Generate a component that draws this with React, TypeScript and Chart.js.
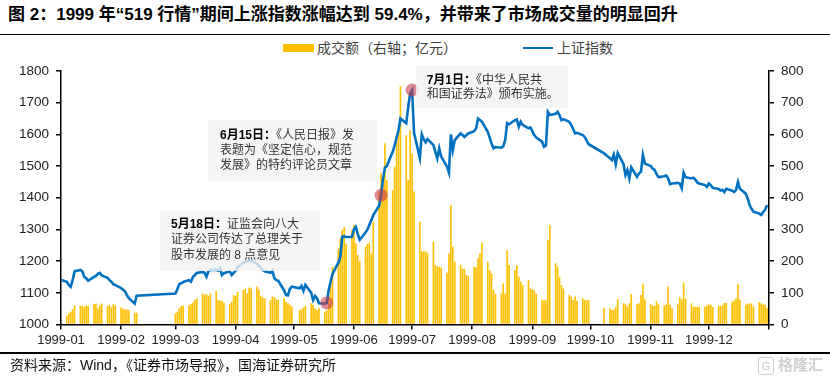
import React, { useEffect, useRef } from "react";
import { Chart, registerables } from "chart.js";

Chart.register(...registerables);

// ---------- axis labels ----------
const monthLabels = [
  "1999-01", "1999-02", "1999-03", "1999-04", "1999-05", "1999-06",
  "1999-07", "1999-08", "1999-09", "1999-10", "1999-11", "1999-12",
];
// day-of-year of each month start (last = 2000-01-01)
const monthStartDays = [1, 32, 60, 91, 121, 152, 182, 213, 244, 274, 305, 335, 366];
const monthOffsets = [0, 31, 59, 90, 120, 151, 181, 212, 243, 273, 304, 334];

// ---------- data: trading days, 上证指数 (close), 成交额 (亿元) ----------
const daysDec1998 = [31];
const indexDec1998 = [1143];

const days01 = [4, 5, 6, 7, 8, 11, 12, 13, 14, 15, 18, 19, 20, 21, 22, 25, 26, 27, 28, 29];
const index01 = [1135, 1125, 1119, 1140, 1168, 1172, 1168, 1150, 1146, 1138, 1150, 1153, 1160, 1163, 1155, 1147, 1140, 1135, 1127, 1124];
const volume01 = [27, 35, 40, 48, 60, 58, 59, 55, 60, 58, 65, 66, 51, 60, 66, 58, 62, 54, 64, 60];

const days02 = [1, 2, 3, 4, 5, 8, 9];
const index02 = [1115, 1110, 1105, 1092, 1083, 1066, 1091];
const volume02 = [54, 49, 47, 47, 45, 37, 37];

const days03 = [1, 2, 3, 4, 5, 8, 9, 10, 11, 12, 15, 16, 17, 18, 19, 22, 23, 24, 25, 26, 29, 30, 31];
const index03 = [1098, 1112, 1128, 1130, 1134, 1140, 1135, 1150, 1156, 1163, 1166, 1163, 1151, 1168, 1172, 1173, 1170, 1177, 1156, 1162, 1168, 1156, 1163];
const volume03 = [35, 40, 51, 58, 60, 61, 65, 69, 77, 83, 98, 93, 96, 90, 98, 106, 77, 76, 74, 69, 65, 72, 93];

const days04 = [1, 2, 5, 6, 7, 8, 9, 12, 13, 14, 15, 16, 19, 20, 21, 22, 23, 26, 27, 28, 29, 30];
const index04 = [1170, 1180, 1195, 1198, 1200, 1203, 1201, 1193, 1185, 1180, 1172, 1168, 1163, 1170, 1146, 1140, 1138, 1108, 1093, 1092, 1112, 1119];
const volume04 = [90, 103, 109, 113, 98, 117, 114, 119, 111, 90, 86, 83, 77, 88, 86, 80, 77, 83, 72, 67, 62, 56];

const days05 = [4, 5, 6, 7, 10, 11, 12, 13, 14, 17, 18, 19, 20, 21, 24, 25, 26, 27, 28, 31];
const index05 = [1114, 1122, 1106, 1125, 1100, 1077, 1090, 1082, 1067, 1066, 1068, 1109, 1135, 1160, 1195, 1214, 1277, 1278, 1276, 1277];
const volume05 = [46, 47, 54, 58, 67, 62, 51, 46, 51, 40, 45, 88, 130, 182, 240, 272, 298, 308, 256, 298];

const days06 = [1, 2, 3, 4, 7, 8, 9, 10, 11, 14, 15, 16, 17, 18, 21, 22, 23, 24, 25, 28, 29, 30];
const index06 = [1300, 1308, 1285, 1267, 1290, 1300, 1315, 1330, 1345, 1375, 1408, 1460, 1495, 1500, 1545, 1565, 1590, 1613, 1650, 1635, 1687, 1729];
const volume06 = [314, 256, 219, 200, 245, 255, 258, 225, 324, 420, 477, 445, 572, 456, 424, 498, 582, 613, 752, 597, 456, 613];

const days07 = [1, 2, 5, 6, 7, 8, 9, 12, 13, 14, 15, 16, 19, 20, 21, 22, 23, 26, 27, 28, 29, 30];
const index07 = [1740, 1605, 1525, 1600, 1585, 1575, 1585, 1566, 1545, 1524, 1556, 1530, 1498, 1479, 1600, 1550, 1582, 1603, 1598, 1592, 1598, 1603];
const volume07 = [540, 420, 324, 230, 230, 230, 225, 261, 188, 182, 182, 180, 163, 225, 377, 245, 198, 188, 177, 176, 156, 153];

const days08 = [2, 3, 4, 5, 6, 9, 10, 11, 12, 13, 16, 17, 18, 19, 20, 23, 24, 25, 26, 27, 30, 31];
const index08 = [1610, 1619, 1650, 1645, 1640, 1608, 1590, 1570, 1556, 1560, 1558, 1562, 1582, 1635, 1632, 1645, 1647, 1624, 1640, 1630, 1619, 1622];
const volume08 = [182, 180, 209, 225, 258, 198, 172, 161, 109, 96, 98, 130, 98, 235, 188, 172, 188, 151, 135, 125, 140, 114];

const days09 = [1, 2, 3, 6, 7, 8, 9, 10, 13, 14, 15, 16, 17, 20, 21, 22, 23, 24, 27, 28, 29, 30];
const index09 = [1610, 1598, 1590, 1577, 1561, 1565, 1671, 1661, 1665, 1671, 1660, 1645, 1648, 1640, 1630, 1618, 1603, 1605, 1598, 1592, 1580, 1569];
const volume09 = [111, 107, 96, 77, 76, 77, 267, 314, 193, 182, 151, 125, 114, 93, 88, 77, 88, 75, 83, 77, 76, 77];

const days10 = [8, 11, 12, 13, 14, 15, 18, 19, 20, 21, 22, 25, 26, 27, 28, 29];
const index10 = [1540, 1525, 1519, 1536, 1506, 1541, 1506, 1471, 1487, 1461, 1496, 1466, 1477, 1482, 1535, 1508];
const volume10 = [52, 51, 46, 47, 55, 80, 67, 64, 57, 67, 96, 64, 67, 93, 127, 80];

const days11 = [1, 2, 3, 4, 5, 8, 9, 10, 11, 12, 15, 16, 17, 18, 19, 22, 23, 24, 25, 26, 29, 30];
const index11 = [1500, 1492, 1488, 1475, 1465, 1468, 1470, 1462, 1443, 1445, 1447, 1445, 1430, 1479, 1465, 1461, 1463, 1458, 1448, 1445, 1440, 1434];
const volume11 = [64, 60, 58, 73, 64, 60, 63, 119, 63, 51, 64, 86, 80, 132, 82, 67, 57, 55, 55, 55, 56, 60];

const days12 = [1, 2, 3, 6, 7, 8, 9, 10, 13, 14, 15, 16, 17, 20, 21, 22, 23, 24, 27, 28, 29, 30, 31];
const index12 = [1445, 1440, 1431, 1428, 1423, 1425, 1418, 1428, 1422, 1418, 1425, 1450, 1428, 1413, 1398, 1377, 1365, 1356, 1350, 1346, 1355, 1362, 1377];
const volume12 = [64, 62, 55, 58, 58, 61, 68, 68, 72, 76, 82, 128, 78, 62, 66, 66, 66, 56, 71, 66, 63, 62, 52];

// highlighted events (month, day)
const eventMonths = [5, 6, 7];
const eventDays = [18, 15, 1];

// ---------- build series ----------
const monthTable: [number, number[], number[], number[]][] = [
  [1, days01, index01, volume01],
  [2, days02, index02, volume02],
  [3, days03, index03, volume03],
  [4, days04, index04, volume04],
  [5, days05, index05, volume05],
  [6, days06, index06, volume06],
  [7, days07, index07, volume07],
  [8, days08, index08, volume08],
  [9, days09, index09, volume09],
  [10, days10, index10, volume10],
  [11, days11, index11, volume11],
  [12, days12, index12, volume12],
];

const dayOfYear = (m: number, d: number) => monthOffsets[m - 1] + d;

const linePoints: { x: number; y: number }[] = daysDec1998.map((d, i) => ({ x: d - 31, y: indexDec1998[i] }));
const barPoints: { x: number; y: number }[] = [];
monthTable.forEach(([m, days, idx, vol]) => {
  days.forEach((d, i) => {
    const x = dayOfYear(m, d);
    linePoints.push({ x, y: idx[i] });
    barPoints.push({ x, y: vol[i] });
  });
});
const eventPoints = eventMonths.map((m, i) => {
  const x = dayOfYear(m, eventDays[i]);
  const p = linePoints.find((q) => q.x === x);
  return { x, y: p ? p.y : 0 };
});

const LATIN_CJK = '"Liberation Sans", Arial, "Noto Sans CJK SC", sans-serif';

export default function App() {
  const canvasRef = useRef<HTMLCanvasElement | null>(null);

  useEffect(() => {
    const canvas = canvasRef.current;
    if (!canvas) return;
    const tickFont = { family: '"Liberation Sans", Arial, sans-serif', size: 13.5 };
    const plain = (v: any) => String(v);
    const chart = new Chart(canvas, {
      type: "bar",
      data: {
        datasets: [
          {
            type: "line",
            label: "events",
            data: eventPoints,
            yAxisID: "y",
            showLine: false,
            pointRadius: 6.5,
            pointBackgroundColor: "rgba(200,60,75,0.6)",
            pointBorderWidth: 0,
            order: 0,
            clip: false,
          } as any,
          {
            type: "line",
            label: "上证指数",
            data: linePoints,
            yAxisID: "y",
            borderColor: "#0070C0",
            borderWidth: 2.6,
            pointRadius: 0,
            tension: 0,
            fill: false,
            order: 1,
            clip: 0,
          } as any,
          {
            type: "bar",
            label: "成交额（右轴；亿元）",
            data: barPoints,
            yAxisID: "y1",
            backgroundColor: "#FFC000",
            borderWidth: 0,
            barPercentage: 1,
            categoryPercentage: 0.85,
            order: 2,
          } as any,
        ],
      },
      options: {
        responsive: false,
        animation: false,
        events: [],
        layout: { padding: { top: 71, left: 0, right: 0, bottom: 0 } },
        plugins: {
          legend: { display: false },
          tooltip: { enabled: false },
          title: { display: false },
        },
        scales: {
          x: {
            type: "linear",
            min: 1,
            max: 366,
            offset: false,
            afterBuildTicks: (s: any) => {
              s.ticks = monthStartDays.map((v) => ({ value: v }));
            },
            afterFit: (s: any) => {
              s.height = 55.5;
            },
            ticks: {
              autoSkip: false,
              maxRotation: 0,
              minRotation: 0,
              padding: 3,
              color: "#222",
              font: { family: '"Liberation Sans", Arial, sans-serif', size: 13 },
              callback: (v: any) => {
                const i = monthStartDays.indexOf(Number(v));
                return i >= 0 && i < monthLabels.length ? monthLabels[i] : "";
              },
            },
            grid: { display: true, drawOnChartArea: false, drawTicks: true, tickLength: 5, color: "#000", lineWidth: 1.5, offset: false },
            border: { display: true, color: "#000", width: 1.5 },
          },
          y: {
            type: "linear",
            position: "left",
            min: 1000,
            max: 1800,
            afterFit: (s: any) => {
              s.width = 61;
            },
            ticks: { stepSize: 100, padding: 7, color: "#222", font: tickFont, callback: plain },
            grid: { display: true, drawOnChartArea: false, drawTicks: true, tickLength: 5, color: "#000", lineWidth: 1.5 },
            border: { display: true, color: "#000", width: 1.5 },
          },
          y1: {
            type: "linear",
            position: "right",
            min: 0,
            max: 800,
            afterFit: (s: any) => {
              s.width = 61;
            },
            ticks: { stepSize: 100, padding: 7, color: "#222", font: tickFont, callback: plain },
            grid: { display: true, drawOnChartArea: false, drawTicks: true, tickLength: 5, color: "#000", lineWidth: 1.5 },
            border: { display: true, color: "#000", width: 1.5 },
          },
        },
      } as any,
    });
    return () => chart.destroy();
  }, []);

  const abs = (s: React.CSSProperties): React.CSSProperties => ({ position: "absolute", margin: 0, whiteSpace: "nowrap", ...s });
  const boxStyle = (left: number, top: number, width: number, height: number, padTop: number, padLeft: number, lh: number): React.CSSProperties =>
    abs({
      left,
      top,
      width,
      height,
      boxSizing: "border-box",
      paddingTop: padTop,
      paddingLeft: padLeft,
      background: "rgba(242,242,242,0.8)",
      fontFamily: LATIN_CJK,
      fontSize: 12,
      lineHeight: `${lh}px`,
      color: "#333",
    });

  return (
    <div style={{ position: "absolute", left: 0, top: 0, width: 830, height: 380, background: "#fff", overflow: "hidden" }}>
      <div style={abs({ left: 8, top: 5, fontFamily: LATIN_CJK, fontWeight: 700, fontSize: 17, lineHeight: "20px", color: "#000" })}>
        图 2：1999 年“519 行情”期间上涨指数涨幅达到 59.4%，并带来了市场成交量的明显回升
      </div>
      <div style={abs({ left: 0, top: 33.5, width: 830, height: 1.5, background: "#000" })} />

      {/* legend */}
      <div style={abs({ left: 283, top: 44, width: 31, height: 8, background: "#FFC000" })} />
      <div style={abs({ left: 317, top: 40, fontFamily: LATIN_CJK, fontSize: 14, lineHeight: "16px", color: "#404040" })}>成交额（右轴；亿元）</div>
      <div style={abs({ left: 523, top: 46.8, width: 30, height: 2.6, background: "#0070C0" })} />
      <div style={abs({ left: 557, top: 40, fontFamily: LATIN_CJK, fontSize: 14, lineHeight: "16px", color: "#404040" })}>上证指数</div>

      <canvas ref={canvasRef} width={830} height={380} style={{ position: "absolute", left: 0, top: 0, width: 830, height: 380 }} />

      {/* annotations */}
      <div style={boxStyle(160, 211, 160, 60, 6, 11, 15.3)}>
        <div><b style={{ color: "#000" }}>5月18日：</b>证监会向八大</div>
        <div>证券公司传达了总理关于</div>
        <div>股市发展的 8 点意见</div>
      </div>
      <div style={boxStyle(208, 120, 169, 61, 7.5, 12, 15)}>
        <div><b style={{ color: "#000" }}>6月15日：</b>《人民日报》发</div>
        <div>表题为《坚定信心，规范</div>
        <div>发展》的特约评论员文章</div>
      </div>
      <div style={boxStyle(416, 65.5, 152, 42, 7.5, 10.7, 14)}>
        <div><b style={{ color: "#000" }}>7月1日：</b>《中华人民共</div>
        <div>和国证券法》颁布实施。</div>
      </div>

      {/* footer */}
      <div style={abs({ left: 0, top: 352, width: 830, height: 1.5, background: "#000" })} />
      <div style={abs({ left: 10, top: 356, fontFamily: LATIN_CJK, fontSize: 14, lineHeight: "18px", color: "#111" })}>
        资料来源：Wind，《证券市场导报》，国海证券研究所
      </div>
      <div style={abs({ left: 758, top: 357, width: 14, height: 16, border: "1.5px solid #cfcfcf", borderRadius: 3, fontFamily: LATIN_CJK, fontSize: 11, lineHeight: "16px", textAlign: "center", color: "#c8c8c8" })}>G</div>
      <div style={abs({ left: 778, top: 356, fontFamily: LATIN_CJK, fontSize: 15, fontWeight: 700, lineHeight: "18px", color: "#cfcfcf" })}>格隆汇</div>
    </div>
  );
}
